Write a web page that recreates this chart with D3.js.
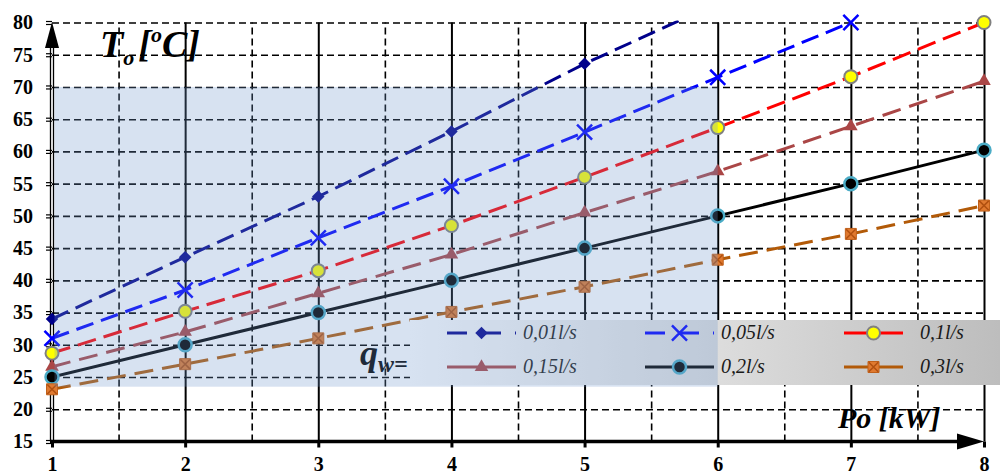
<!DOCTYPE html>
<html>
<head>
<meta charset="utf-8">
<script src="https://cdn.jsdelivr.net/npm/d3@7.9.0/dist/d3.min.js"></script>
<style>
  body { margin: 0; background: #fff; }
  svg { display: block; }
</style>
</head>
<body>
<div id="chart"></div>
<script>
// values (outlet temperature in degC vs power in kW)
const powers = [1, 2, 3, 4, 5, 6, 7, 8];
const flow001 = [34, 43.6, 53, 63.1, 73.6, 83];
const flow005 = [31, 38.5, 46.6, 54.6, 63, 71.5, 80];
const flow01 = [28.7, 35.2, 41.5, 48.5, 56, 63.7, 71.6, 80];
const flow015 = [26.6, 32, 38, 44, 50.5, 56.9, 63.9, 70.9];
const flow02 = [25, 30, 35, 40, 45, 50, 55, 60.2];
const flow03 = [23.1, 27, 31, 35.1, 39, 43.2, 47.2, 51.6];
const seriesNames = ['0,01l/s', '0,05l/s', '0,1l/s', '0,15l/s', '0,2l/s', '0,3l/s'];
const yTicks = d3.range(15, 81, 5);
const xGridMajor = [2, 3, 4, 5, 6, 7, 8];
const xGridMinor = [1.5, 2.5, 3.5, 4.5, 5.5, 6.5, 7.5];
const zoneP = [1, 6];
const zoneT = [23.5, 70];

const width = 1000;
const height = 474;

const x = d3.scaleLinear().domain([1, 8]).range([52, 984]);
const y = d3.scaleLinear().domain([15, 80]).range([441.5, 22.5]);

const svg = d3.select('#chart').append('svg')
  .attr('width', width).attr('height', height)
  .style('font-family', '"Liberation Serif", "Times New Roman", serif');

const defs = svg.append('defs');
defs.append('clipPath').attr('id', 'plot-clip')
  .append('rect')
  .attr('x', x(1)).attr('y', y(80) - 2)
  .attr('width', x(8) - x(1) + 2).attr('height', y(15) - y(80) + 2);

const grad = defs.append('linearGradient').attr('id', 'legend-bg')
  .attr('x1', '0%').attr('x2', '100%').attr('y1', '0%').attr('y2', '0%');
grad.append('stop').attr('offset', '0%').attr('stop-color', '#ffffff');
grad.append('stop').attr('offset', '100%').attr('stop-color', '#bdbdbd');

// horizontal dashed grid
svg.append('g')
  .attr('transform', `translate(${x(1)},0)`)
  .call(d3.axisLeft(y).tickValues(yTicks.filter(d => d > 15)).tickFormat('').tickSize(-(x(8) - x(1))))
  .call(g => g.select('.domain').remove())
  .call(g => g.selectAll('line')
    .attr('stroke', '#000').attr('stroke-width', 1.6).attr('stroke-dasharray', '7,4'));

// vertical dashed grid (half steps)
svg.append('g')
  .attr('transform', `translate(0,${y(15)})`)
  .call(d3.axisBottom(x).tickValues(xGridMinor).tickFormat('').tickSize(-(y(15) - y(80))))
  .call(g => g.select('.domain').remove())
  .call(g => g.selectAll('line')
    .attr('stroke', '#000').attr('stroke-width', 1.6).attr('stroke-dasharray', '7,4'));

// vertical solid grid
svg.append('g')
  .attr('transform', `translate(0,${y(15)})`)
  .call(d3.axisBottom(x).tickValues(xGridMajor).tickFormat('').tickSize(-(y(15) - y(80))))
  .call(g => g.select('.domain').remove())
  .call(g => g.selectAll('line').attr('stroke', '#000').attr('stroke-width', 2));

// y axis: double line with arrow
const yAxisG = svg.append('g').attr('transform', `translate(${x(1)},0)`);
yAxisG.call(d3.axisLeft(y).tickValues(yTicks).tickSize(6).tickPadding(13))
  .call(g => g.select('.domain').remove())
  .call(g => g.selectAll('.tick line').attr('stroke', '#000').attr('stroke-width', 1.2).attr('transform', 'translate(0,-1.5)'))
  .call(g => g.selectAll('.tick').append('line').attr('x2', -6).attr('y1', 1.5).attr('y2', 1.5)
    .attr('stroke', '#000').attr('stroke-width', 1.2))
  .call(g => g.selectAll('.tick text')
    .attr('font-family', '"Liberation Serif", serif')
    .attr('font-size', 20).attr('font-weight', 'bold').attr('fill', '#000'));
[-1.5, 1.5].forEach(off => {
  yAxisG.append('line').attr('x1', off).attr('x2', off)
    .attr('y1', y(15)).attr('y2', 46).attr('stroke', '#000').attr('stroke-width', 1.3);
});
yAxisG.append('path').attr('d', 'M-7,48 L0,22 L7,48 Z').attr('fill', '#000');

const series = [
  { name: seriesNames[0], values: flow001, color: '#00008b', dash: '18,8', marker: 'diamond' },
  { name: seriesNames[1], values: flow005, color: '#0000ff', dash: '18,8', marker: 'times' },
  { name: seriesNames[2], values: flow01, color: '#ff0000', dash: '19,8', marker: 'ycircle' },
  { name: seriesNames[3], values: flow015, color: '#aa4646', dash: '19,9', marker: 'triangle' },
  { name: seriesNames[4], values: flow02, color: '#000000', dash: null, marker: 'bcircle' },
  { name: seriesNames[5], values: flow03, color: '#b25a08', dash: '19,9', marker: 'square' },
];

function drawMarker(g, s, cx, cy) {
  const m = g.append('g').attr('transform', `translate(${cx},${cy})`);
  if (s.marker === 'diamond') {
    m.append('path').attr('d', d3.symbol(d3.symbolDiamond2, 100)())
      .attr('fill', s.color);
  } else if (s.marker === 'times') {
    m.append('path').attr('d', d3.symbol(d3.symbolTimes, 150)())
      .attr('stroke', s.color).attr('stroke-width', 2.5).attr('fill', 'none');
  } else if (s.marker === 'ycircle') {
    m.append('circle').attr('r', 6.5).attr('fill', '#ffff00')
      .attr('stroke', '#808080').attr('stroke-width', 2);
  } else if (s.marker === 'triangle') {
    m.append('path').attr('d', d3.symbol(d3.symbolTriangle, 80)())
      .attr('fill', s.color);
  } else if (s.marker === 'bcircle') {
    m.append('circle').attr('r', 6.5).attr('fill', '#000')
      .attr('stroke', '#4bacc6').attr('stroke-width', 2.5);
  } else if (s.marker === 'square') {
    m.append('path').attr('d', d3.symbol(d3.symbolSquare, 121)())
      .attr('fill', '#e07a30').attr('stroke', '#c0601a').attr('stroke-width', 1);
    m.append('path').attr('d', d3.symbol(d3.symbolTimes, 60)())
      .attr('stroke', '#b05010').attr('stroke-width', 1.5).attr('fill', 'none');
  }
}

const line = d3.line().x((d, i) => x(powers[i])).y(d => y(d));
const plot = svg.append('g').attr('clip-path', 'url(#plot-clip)');
const markers = svg.append('g');

series.forEach(s => {
  plot.append('path')
    .datum(s.values)
    .attr('d', line)
    .attr('fill', 'none')
    .attr('stroke', s.color)
    .attr('stroke-width', 3)
    .attr('stroke-dasharray', s.dash);
});
series.forEach(s => {
  s.values.forEach((v, i) => {
    if (v <= 80) drawMarker(markers, s, x(powers[i]), y(v));
  });
});

// legend
const legend = svg.append('g');
legend.append('rect')
  .attr('x', 410).attr('y', 320).attr('width', 590).attr('height', 65)
  .attr('fill', 'url(#legend-bg)');
const colX = [447, 645, 844];
const rowY = [333, 367];
series.forEach((s, i) => {
  const col = i % 3;
  const row = Math.floor(i / 3);
  const x0 = colX[col];
  const len = col === 2 ? 59 : 69;
  const yy = rowY[row];
  legend.append('line')
    .attr('x1', x0).attr('x2', x0 + len).attr('y1', yy).attr('y2', yy)
    .attr('stroke', s.color).attr('stroke-width', 3)
    .attr('stroke-dasharray', row === 0 && col < 2 ? '20,14' : null);
  drawMarker(legend, s, x0 + len / 2, yy);
  legend.append('text')
    .attr('x', x0 + len + 7 + (col === 2 ? 10 : 0)).attr('y', yy + 6)
    .attr('font-size', 20).attr('font-style', 'italic')
    .attr('fill', '#1a1a1a')
    .text(s.name);
});

// q_w label
const q = svg.append('text')
  .attr('x', 360).attr('y', 365)
  .attr('font-size', 36).attr('font-weight', 'bold').attr('font-style', 'italic')
  .attr('fill', '#000');
q.append('tspan').text('q');
q.append('tspan').attr('font-size', 24).attr('dy', 7).text('w=');

// highlighted zone, drawn on top
svg.append('rect')
  .attr('x', x(zoneP[0]) + 2.5).attr('y', y(zoneT[1]))
  .attr('width', x(zoneP[1]) - x(zoneP[0]) - 2.5)
  .attr('height', y(zoneT[0]) - y(zoneT[1]))
  .attr('fill', 'rgb(110,150,205)').attr('fill-opacity', 0.28);

// x axis: thick line with arrow
const xAxisG = svg.append('g').attr('transform', `translate(0,${y(15)})`);
xAxisG.call(d3.axisBottom(x).tickValues(powers).tickFormat(d3.format('d')).tickSize(6).tickPadding(12))
  .call(g => g.select('.domain').remove())
  .call(g => g.selectAll('.tick line').attr('stroke', '#000').attr('stroke-width', 3))
  .call(g => g.selectAll('.tick text')
    .attr('y', 29.5).attr('dy', 0)
    .attr('font-family', '"Liberation Serif", serif')
    .attr('font-size', 20).attr('font-weight', 'bold').attr('fill', '#000'));
xAxisG.append('line').attr('x1', x(1) - 2).attr('x2', 960).attr('y1', 0).attr('y2', 0)
  .attr('stroke', '#000').attr('stroke-width', 3.5);
xAxisG.append('path').attr('d', 'M957,-8 L984,0 L957,8 Z').attr('fill', '#000');

// axis titles
const tTitle = svg.append('text')
  .attr('x', 100).attr('y', 57)
  .attr('font-size', 38).attr('font-weight', 'bold').attr('font-style', 'italic')
  .attr('fill', '#000');
tTitle.append('tspan').text('T');
tTitle.append('tspan').attr('font-size', 22).attr('dy', 8).text('o');
tTitle.append('tspan').attr('dy', -8).attr('dx', 4).text('[');
tTitle.append('tspan').attr('font-size', 22).attr('dy', -15).text('o');
tTitle.append('tspan').attr('dy', 15).text('C]');

svg.append('text')
  .attr('x', 838).attr('y', 428)
  .attr('font-size', 30).attr('font-weight', 'bold').attr('font-style', 'italic')
  .attr('fill', '#000')
  .text('Po [kW]');
</script>
</body>
</html>
